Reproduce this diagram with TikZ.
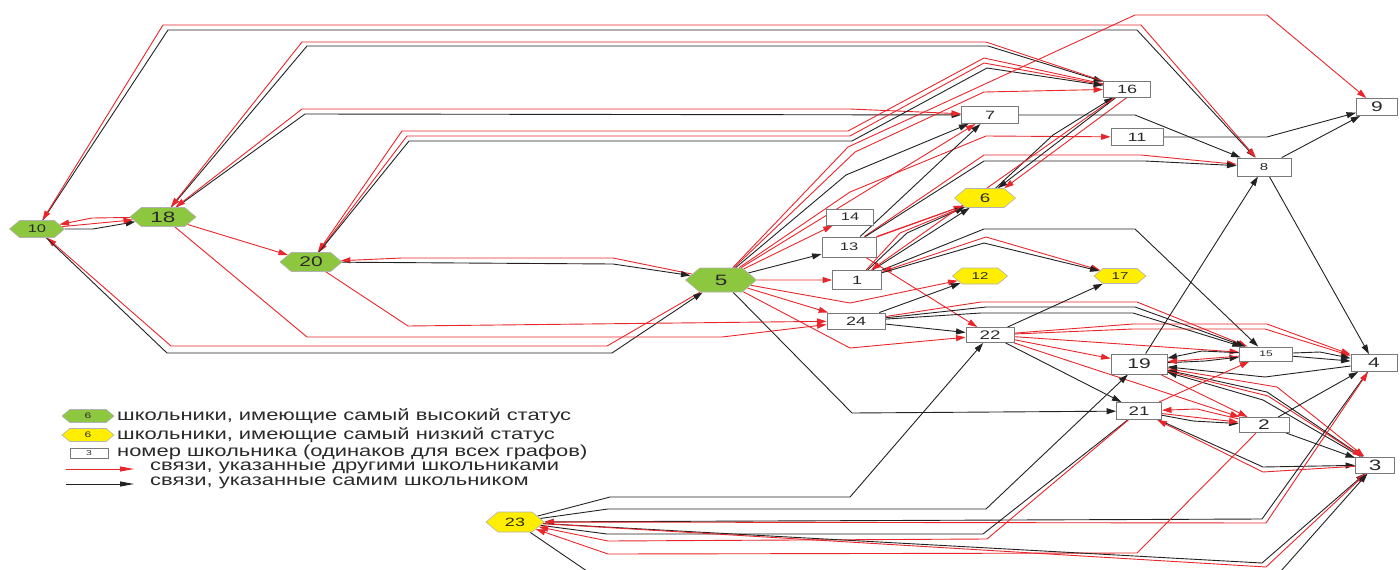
\documentclass[tikz,border=0pt]{standalone}
\usepackage{fontspec}
\setmainfont{Liberation Sans}
\newfontfamily\nf{Liberation Sans}[FakeStretch=1.5]
\newfontfamily\lf{Liberation Sans}[FakeStretch=1.37]
\usetikzlibrary{arrows.meta,shapes.symbols}
\newcommand\myfs[1]{\fontsize{#1}{#1}\selectfont}
\definecolor{gr}{HTML}{8DC63F}
\definecolor{ye}{HTML}{FFEE00}
\definecolor{rd}{HTML}{E8262B}
\definecolor{bk}{HTML}{222222}
\definecolor{bd}{HTML}{7A7A7A}
\definecolor{tx}{HTML}{2A2A2A}
\pgfdeclarelayer{bg}
\pgfsetlayers{bg,main}
\tikzset{
 sz/.style={font=\nf\myfs{#1}, text=tx},
 hex/.style={shape=signal, signal to=east and west, signal pointer angle=80, draw=black!30, line width=0.6pt, inner sep=0pt},
 hg/.style={hex, fill=gr},
 hy/.style={hex, fill=ye},
 bx/.style={draw=bd, fill=white, line width=0.9pt, inner sep=0pt},
 tip/.tip={Triangle[length=9.5pt,width=6pt]},
 rl/.style={draw=rd, line width=0.9pt, -tip},
 kl/.style={draw=bk, line width=0.9pt, -tip},
 rb/.style={draw=rd, line width=0.9pt, tip-tip},
 kn/.style={draw=bk, line width=0.9pt},
}
\begin{document}
\begin{tikzpicture}[x=1pt,y=-1pt]
\useasboundingbox (0,0) rectangle (1400,570);
% hexagon nodes
\node[hg, minimum width=55pt, minimum height=17pt, sz=11] (n10) at (37,229) {10};
\node[hg, minimum width=66pt, minimum height=19pt, sz=15] (n18) at (163,217) {18};
\node[hg, minimum width=62pt, minimum height=19pt, sz=14] (n20) at (311,262) {20};
\node[hg, minimum width=71pt, minimum height=24pt, sz=15] (n5) at (721,280) {5};
\node[hy, minimum width=61pt, minimum height=19pt, sz=12.5] (n6) at (985,198) {6};
\node[hy, minimum width=55pt, minimum height=16pt, sz=10] (n12) at (980,276) {12};
\node[hy, minimum width=52pt, minimum height=15pt, sz=10] (n17) at (1120,276) {17};
\node[hy, minimum width=58pt, minimum height=20pt, sz=12] (n23) at (515,522) {23};
% box nodes
\node[bx, minimum width=47pt, minimum height=16pt, sz=11] (n14) at (850,217) {14};
\node[bx, minimum width=54pt, minimum height=20pt, sz=11] (n13) at (849,247) {13};
\node[bx, minimum width=49pt, minimum height=19pt, sz=12] (n1) at (857,280) {1};
\node[bx, minimum width=58pt, minimum height=16pt, sz=12] (n24) at (856,321) {24};
\node[bx, minimum width=48pt, minimum height=15pt, sz=12.5] (n22) at (990,335) {22};
\node[bx, minimum width=56pt, minimum height=20pt, sz=14] (n19) at (1139,364) {19};
\node[bx, minimum width=53pt, minimum height=14pt, sz=8] (n15) at (1266,354) {15};
\node[bx, minimum width=46pt, minimum height=17pt, sz=14] (n4) at (1374,363) {4};
\node[bx, minimum width=45pt, minimum height=17pt, sz=12.5] (n21) at (1139,411) {21};
\node[bx, minimum width=50pt, minimum height=15pt, sz=14] (n2) at (1264,425) {2};
\node[bx, minimum width=39pt, minimum height=16pt, sz=15] (n3) at (1375,465) {3};
\node[bx, minimum width=47pt, minimum height=16pt, sz=12] (n16) at (1127,89) {16};
\node[bx, minimum width=57pt, minimum height=17pt, sz=12] (n7) at (990,115) {7};
\node[bx, minimum width=52pt, minimum height=17pt, sz=12] (n11) at (1137,137) {11};
\node[bx, minimum width=54pt, minimum height=18pt, sz=10] (n8) at (1264,167) {8};
\node[bx, minimum width=41pt, minimum height=17pt, sz=14] (n9) at (1377,107) {9};
% legend
\node[hg, minimum width=52pt, minimum height=13pt, sz=8] (lg1) at (88,416) {6};
\node[hy, minimum width=52pt, minimum height=13pt, sz=8] (lg2) at (88,435) {6};
\node[bx, minimum width=38pt, minimum height=10pt, line width=0.7pt, sz=7] (lg3) at (89,453) {3};
\node[anchor=west, inner sep=0pt, text=tx, font=\lf\myfs{16}] (t1) at (117,416) {школьники, имеющие самый высокий статус};
\node[anchor=west, inner sep=0pt, text=tx, font=\lf\myfs{16}] (t2) at (117,435) {школьники, имеющие самый низкий статус};
\node[anchor=west, inner sep=0pt, text=tx, font=\lf\myfs{16}] (t3) at (117,452) {номер школьника (одинаков для всех графов)};
\node[anchor=west, inner sep=0pt, text=tx, font=\lf\myfs{16}] (t4) at (150,468) {связи, указанные другими школьниками};
\node[anchor=west, inner sep=0pt, text=tx, font=\lf\myfs{16}] (t5) at (150,483) {связи, указанные самим школьником};
\coordinate (la1) at (66,469); \coordinate (la2) at (134,469);
\coordinate (lb1) at (66,484); \coordinate (lb2) at (134,484);
\draw[draw=rd, line width=0.9pt, -{Triangle[length=14pt,width=5pt]}] (la1) -- (la2);
\draw[draw=bk, line width=0.9pt, -{Triangle[length=14pt,width=5pt]}] (lb1) -- (lb2);

\begin{pgfonlayer}{bg}
% top long bundles
\draw[kl] (n10) -- (168,30) -- (1137,30) -- (n8);
\draw[rb] (n8) -- (1141,25) -- (163,25) -- (n10);
\draw[kl] (n18) -- (307,46) -- (988,46) -- (n16);
\draw[rl] (n16) -- (986,42) -- (302,42) -- (n18);
\draw[kl] (n18) -- (305,114) -- (n7);
\draw[rb] (n7) -- (850,109) -- (302,109) -- (n18);
\draw[rl] (n16) -- (984,58) -- (848,131) -- (402,131) -- (n20);
\draw[rl] (n16) -- (984,63) -- (850,136) -- (407,136) -- (n20);
\draw[kl] (n20) -- (409,141) -- (852,141) -- (987,68) -- (n16);
% from 5
\draw[rl] (n5) -- (848,147) -- (1135,15) -- (1267,15) -- (n9);
\draw[rl] (n5) -- (855,152) -- (984,92) -- (n16);
\draw[rl] (n5) -- (n7);
\draw[kl] (n5) -- (846,175) -- (n7);
\draw[rl] (n5) -- (850,192) -- (986,136) -- (n11);
\draw[rl] (n5) -- (n14);
\draw[kl] (n5) -- (n13);
\draw[rl] (n5) -- (n1);
\draw[rl] (n5) -- (850,303) -- (n12);
\draw[rl] (n5) -- (n24);
\draw[rl] (n5) -- (850,348) -- (n22);
\draw[kl] (n5) -- (852,413) -- (n21);
\draw[rl] (n5) -- (613,258) -- (402,258) -- (n20);
\draw[kl] (n20) -- (613,264) -- (n5);
\draw[rl] (n5) -- (607,346) -- (171,346) -- (n10);
\draw[kl] (n10) -- (167,353) -- (612,353) -- (n5);
% left
\draw[kl] (n10) -- (93,229) -- (n18);
\draw[rl] (n18) -- (92,218) -- (n10);
\draw[rl] (n10) -- (n18);
\draw[rl] (n18) -- (n20);
\draw[rl] (n18) -- (307,337) -- (722,337) -- (n24);
\draw[rl] (n20) -- (408,326) -- (n24);
% 13 / 1 / 6
\draw[kl] (n13) -- (n7);
\draw[rl] (n13) -- (n6);
\draw[rl] (n13.north east) -- (n6);
\draw[rl] (n13) -- (984,155) -- (1141,155) -- (n8);
\draw[kl] (n13) -- (984,161) -- (1145,161) -- (n8);
\draw[rl] (n13) -- (n22);
\draw[rl] (n1) -- (900,233) -- (n6);
\draw[kl] (n1) -- (907,233) -- (n6);
\draw[kl] (n1) -- (n6);
\draw[kl] (n16) -- (n6);
\draw[kl] (n6) -- (1053,135) -- (n16);
\draw[rl] (n16.south) -- (n6.north east);
\draw[rl] (n16) -- (n1);
\draw[kl] (n1) -- (984,229) -- (1135,229) -- (n15);
\draw[rb] (n1) -- (986,237) -- (n17);
\draw[kl] (n1) -- (984,243) -- (n17);
% centre right
\draw[kl] (n24) -- (n12);
\draw[kl] (n24) -- (n22);
\draw[rl] (n24) -- (981,302) -- (1137,302) -- (n15);
\draw[kl] (n24) -- (986,307) -- (1135,307) -- (n15);
\draw[kl] (n24) -- (981,313) -- (1133,313) -- (n15);
\draw[kl] (n22) -- (n17);
\draw[rl] (n22) -- (n19);
\draw[rl] (n22) -- (n15);
\draw[rl] (n22) -- (1133,324) -- (1267,324) -- (n4);
\draw[rl] (n22) -- (1133,329) -- (1265,329) -- (n4);
\draw[rl] (n22) -- (n2);
\draw[kl] (n22) -- (n21);
% right
\draw[kl] (n7) -- (1135,115) -- (n8);
\draw[kl] (n11) -- (1267,137) -- (n9);
\draw[kl] (n8) -- (n9);
\draw[kl] (n8) -- (n4);
\draw[kl] (n19) -- (n8);
\draw[kl] (n19) -- (1205,361) -- (n15);
\draw[kl] (n15) -- (1202,351) -- (n19);
\draw[rl] (n15) -- (n19);
\draw[kl] (n15) -- (1320,352) -- (n4);
\draw[kl] (n15) -- (n4);
\draw[kl] (n4) -- (1265,377) -- (n19);
\draw[kl] (n3) -- (1267,392) -- (n19);
\draw[kl] (n3) -- (1263,400) -- (n19);
\draw[rl] (n19) -- (1277,387) -- (n3);
\draw[rl] (n19) -- (1268,396) -- (n3);
\draw[rl] (n19) -- (n2);
\draw[rl] (n2) -- (1197,409) -- (n21);
\draw[kl] (n21) -- (1193,421) -- (n2);
\draw[rl] (n21) -- (n2);
\draw[kl] (n2) -- (n4);
\draw[kl] (n2) -- (n3);
\draw[kl] (n21) -- (1263,467) -- (n3);
\draw[rl] (n3) -- (1263,472) -- (n21);
\draw[rl] (n21) -- (n15);
% 23 bundle
\draw[kl] (n23) -- (610,497) -- (850,497) -- (n22);
\draw[kl] (n23) -- (608,509) -- (986,509) -- (n19);
\draw[kl] (n4) -- (1262,519) -- (n23);
\draw[rb] (n23) -- (1266,523) -- (n4);
\draw[kn] (n23) -- (607,534) -- (983,534) -- (n21);
\draw[rl] (n21) -- (987,539) -- (608,541) -- (n23);
\draw[rl] (n2) -- (1137,553) -- (608,554) -- (n23);
\draw[kl] (n23) -- (1262,563) -- (n3);
\draw[rl] (n23) -- (1266,567) -- (n3);
\draw[kl] (n23) -- (600,580) -- (1273,580) -- (n3);
\end{pgfonlayer}
\end{tikzpicture}
\end{document}
